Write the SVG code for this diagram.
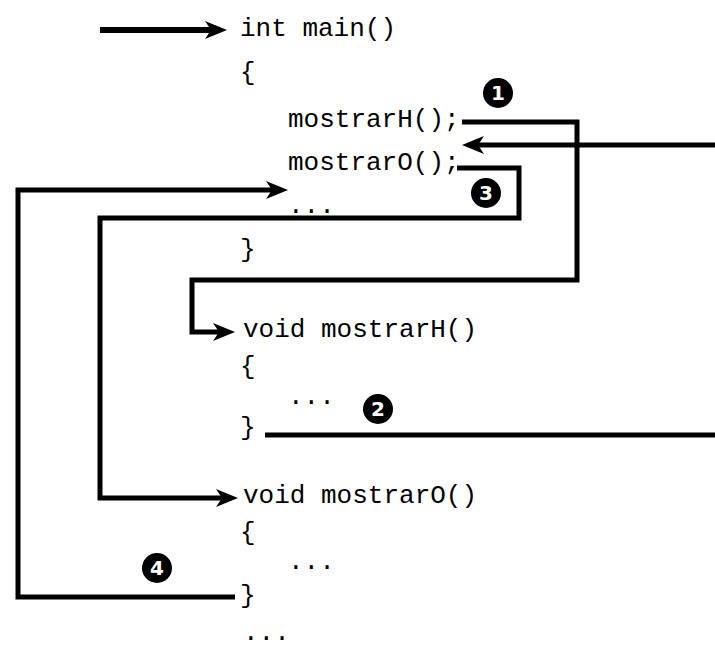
<svg xmlns="http://www.w3.org/2000/svg" width="715" height="647" viewBox="0 0 715 647">
<style>
.code{font-family:"Liberation Mono","DejaVu Sans Mono",monospace;font-size:26px;fill:#000}
.wire{fill:none;stroke:#000;stroke-width:5;stroke-linejoin:miter;stroke-linecap:butt}
.badge circle{fill:#000}
.badge text{font-family:"DejaVu Sans","Liberation Sans",sans-serif;font-size:20px;font-weight:bold;fill:#fff;text-anchor:middle}
</style>
<defs>
<marker id="ah" markerUnits="userSpaceOnUse" markerWidth="24" markerHeight="20" refX="15" refY="9" orient="auto">
<path d="M0,0 L22,9 L0,18 L6,9 Z" fill="#000"/>
</marker>
</defs>
<rect width="715" height="647" fill="#fff"/>
<g id="connectors">
<path class="wire" d="M100,30 H220" marker-end="url(#ah)" style="stroke-width:6"/>
<path class="wire" d="M462,122 H577 V280 H192 V332 H228" marker-end="url(#ah)"/>
<path class="wire" d="M715,145 H469" marker-end="url(#ah)"/>
<path class="wire" d="M265,435 H715"/>
<path class="wire" d="M457,168 H519 V218 H100 V498 H231" marker-end="url(#ah)"/>
<path class="wire" d="M235,597 H18 V190 H281" marker-end="url(#ah)"/>
</g>
<g id="main">
<text class="code" x="240" y="36">int main()</text>
<text class="code" x="240" y="80">{</text>
<text class="code" x="288" y="127">mostrarH();</text>
<text class="code" x="288" y="170">mostrarO();</text>
<text class="code" x="288" y="213">...</text>
<text class="code" x="240" y="257">}</text>
</g>
<g id="mostrarH">
<text class="code" x="243" y="337">void mostrarH()</text>
<text class="code" x="240" y="374">{</text>
<text class="code" x="288" y="404">...</text>
<text class="code" x="240" y="435">}</text>
</g>
<g id="mostrarO">
<text class="code" x="243" y="503">void mostrarO()</text>
<text class="code" x="240" y="540">{</text>
<text class="code" x="288" y="569">...</text>
<text class="code" x="240" y="603">}</text>
</g>
<g id="tail">
<text class="code" x="243" y="640">...</text>
</g>
<g id="badge1" class="badge"><circle cx="498" cy="93" r="15"/><text x="498" y="100">1</text></g>
<g id="badge2" class="badge"><circle cx="378" cy="409" r="15"/><text x="378" y="416">2</text></g>
<g id="badge3" class="badge"><circle cx="486" cy="193" r="15"/><text x="486" y="200">3</text></g>
<g id="badge4" class="badge"><circle cx="157" cy="568" r="15"/><text x="157" y="575">4</text></g>
</svg>
